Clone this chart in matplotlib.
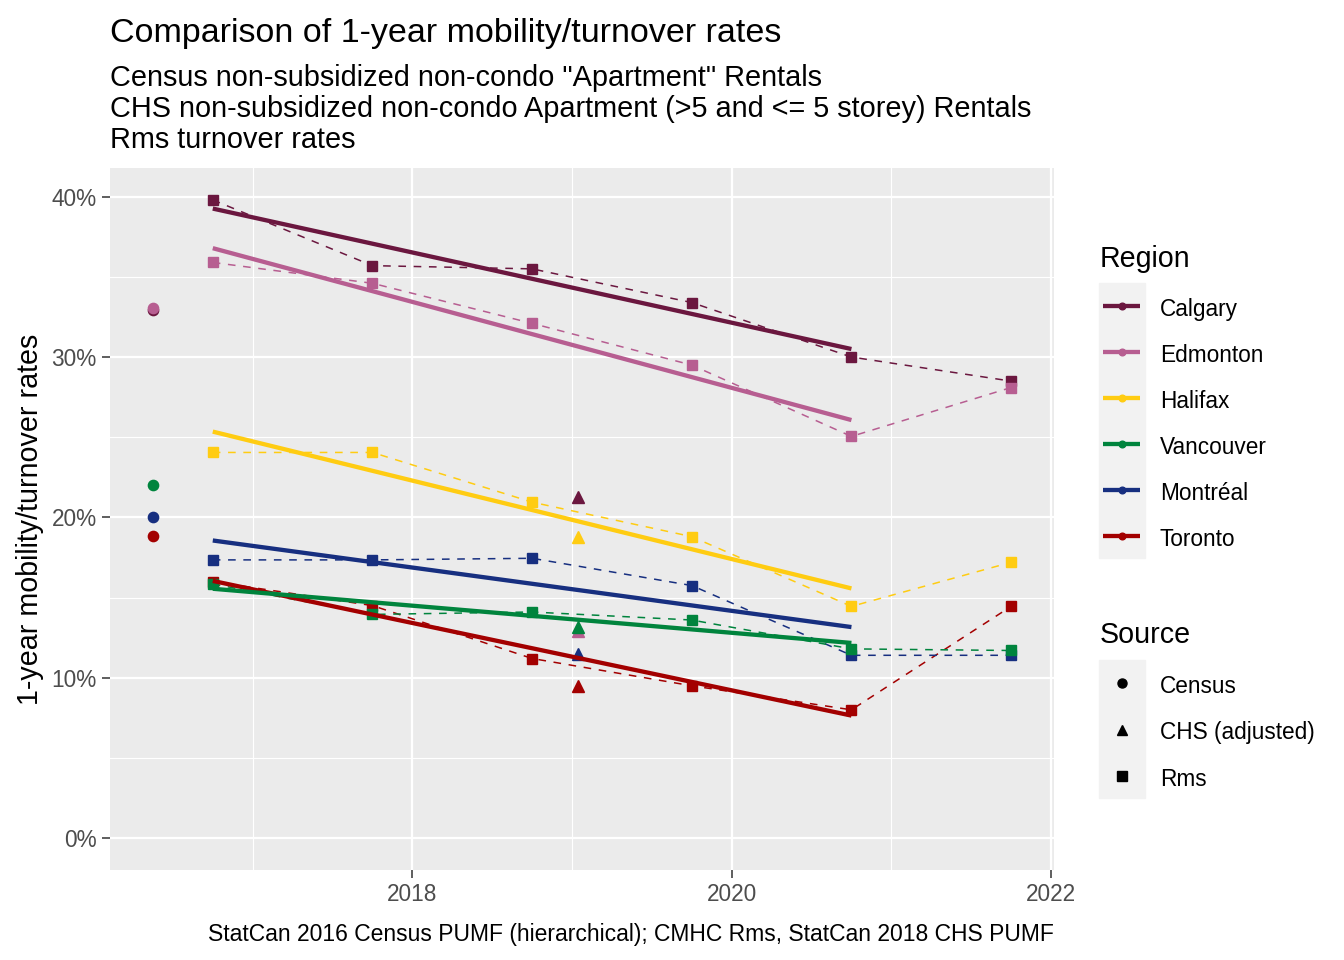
import numpy as np
import matplotlib
matplotlib.use("Agg")
import matplotlib.pyplot as plt
from matplotlib.lines import Line2D
from matplotlib.patches import Rectangle
from matplotlib.ticker import FuncFormatter

plt.rcParams['font.family'] = ['Liberation Sans', 'DejaVu Sans']

# ---- data (percent) ----
regions = ["Calgary", "Edmonton", "Halifax", "Vancouver", "Montréal", "Toronto"]
colors = {"Calgary": "#6B173F", "Edmonton": "#B75E91", "Halifax": "#FFCC12",
          "Vancouver": "#00843D", "Montréal": "#172F80", "Toronto": "#A30000"}

rms_years = [2016.75, 2017.75, 2018.75, 2019.75, 2020.75, 2021.75]
rms_calgary = [39.8, 35.7, 35.5, 33.4, 30.0, 28.5]
rms_edmonton = [35.9, 34.6, 32.1, 29.5, 25.05, 28.1]
rms_halifax = [24.05, 24.05, 20.95, 18.8, 14.45, 17.2]
rms_vancouver = [15.85, 13.95, 14.1, 13.6, 11.8, 11.7]
rms_montreal = [17.35, 17.35, 17.45, 15.75, 11.4, 11.4]
rms_toronto = [16.0, 14.5, 11.2, 9.5, 8.0, 14.45]

census_year = 2016.375
census_regions = ["Calgary", "Edmonton", "Vancouver", "Montréal", "Toronto"]
census_values = [32.95, 33.05, 22.0, 20.0, 18.85]

chs_year = 2019.04
chs_regions = ["Calgary", "Edmonton", "Halifax", "Vancouver", "Montréal", "Toronto"]
chs_values = [21.25, 12.9, 18.8, 13.15, 11.5, 9.5]

rms = {"Calgary": rms_calgary, "Edmonton": rms_edmonton, "Halifax": rms_halifax,
       "Vancouver": rms_vancouver, "Montréal": rms_montreal, "Toronto": rms_toronto}

# fit window for the trend lines (Rms up to 2020)
fit_n = 5

draw_order = ["Calgary", "Edmonton", "Halifax", "Toronto", "Montréal", "Vancouver"]

W, H = 1344, 960
def fx(px):
    return px / W
def fy(py):
    return 1 - py / H

fig = plt.figure(figsize=(W / 100, H / 100), dpi=100)
ax = fig.add_axes([fx(110), fy(870), (1054 - 110) / W, (870 - 168) / H])
ax.set_facecolor("#EBEBEB")
for s in ax.spines.values():
    s.set_visible(False)

# dashed Rms lines
for r in draw_order:
    ax.plot(rms_years, rms[r], color=colors[r], lw=1.1, linestyle=(0, (5, 5)), zorder=3)

# points
for r in draw_order:
    ax.plot(rms_years, rms[r], linestyle="none", marker="s", ms=7.4, color=colors[r], zorder=4)
    if r in census_regions:
        ax.plot([census_year], [census_values[census_regions.index(r)]], linestyle="none",
                marker="o", ms=7.4, color=colors[r], zorder=4)
    if r in chs_regions:
        ax.plot([chs_year], [chs_values[chs_regions.index(r)]], linestyle="none",
                marker="^", ms=8.4, color=colors[r], zorder=4)

# linear trend lines
for r in draw_order:
    xs = np.array(rms_years[:fit_n])
    ys = np.array(rms[r][:fit_n])
    slope, icpt = np.polyfit(xs, ys, 1)
    xl = np.array([xs.min(), xs.max()])
    ax.plot(xl, slope * xl + icpt, color=colors[r], lw=3.1, zorder=5, solid_capstyle="butt")

# limits with ggplot-like 5% expansion
all_x = rms_years + [census_year, chs_year]
all_y = sum(rms.values(), []) + census_values + chs_values + [0]
xr = max(all_x) - min(all_x)
yr = max(all_y) - min(all_y)
ax.set_xlim(min(all_x) - 0.05 * xr, max(all_x) + 0.05 * xr)
ax.set_ylim(min(all_y) - 0.05 * yr, max(all_y) + 0.05 * yr)

ax.set_xticks([2018, 2020, 2022])
ax.set_xticks([2017, 2019, 2021], minor=True)
ax.set_yticks([0, 10, 20, 30, 40])
ax.set_yticks([5, 15, 25, 35], minor=True)
ax.yaxis.set_major_formatter(FuncFormatter(lambda v, p: f"{v:.0f}%"))
ax.grid(which="major", color="white", lw=1.6, zorder=0)
ax.grid(which="minor", color="white", lw=0.8, zorder=0)
ax.set_axisbelow(True)
ax.tick_params(which="major", length=5.5, width=1.1, color="#333333",
               labelsize=16.3, labelcolor="#4D4D4D", pad=4)
ax.tick_params(which="minor", length=0)

# titles
fig.text(fx(110), fy(42), "Comparison of 1-year mobility/turnover rates", fontsize=24.5,
         ha="left", va="baseline")
subs = ['Census non-subsidized non-condo "Apartment" Rentals',
        'CHS non-subsidized non-condo Apartment (>5 and <= 5 storey) Rentals',
        'Rms turnover rates']
for i, s in enumerate(subs):
    fig.text(fx(110), fy(86 + 31 * i), s, fontsize=20.8, ha="left", va="baseline")
fig.text(fx(1054), fy(941), "StatCan 2016 Census PUMF (hierarchical); CMHC Rms, StatCan 2018 CHS PUMF",
         fontsize=16.45, ha="right", va="baseline")
fig.text(fx(30), fy(519), "1-year mobility/turnover rates", fontsize=20.6, rotation=90,
         ha="center", va="center")

# Region legend
fig.text(fx(1100), fy(267), "Region", fontsize=20.6, ha="left", va="baseline")
fig.patches.append(Rectangle((fx(1099), fy(558)), 46 / W, (558 - 283) / H,
                             transform=fig.transFigure, color="#F2F2F2", zorder=0))
for i, r in enumerate(regions):
    yc = 306 + 46 * i
    fig.lines.append(Line2D([fx(1103), fx(1140)], [fy(yc), fy(yc)], transform=fig.transFigure,
                            color=colors[r], lw=3.1, solid_capstyle="butt"))
    fig.lines.append(Line2D([fx(1121.5)], [fy(yc)], transform=fig.transFigure, color=colors[r],
                            marker="o", ms=4.8, linestyle="none"))
    fig.text(fx(1160), fy(yc + 10), r, fontsize=16.3, ha="left", va="baseline")

# Source legend
sources = ["Census", "CHS (adjusted)", "Rms"]
source_markers = ["o", "^", "s"]
source_sizes = [6.5, 7.5, 6.5]
fig.text(fx(1100), fy(643), "Source", fontsize=20.6, ha="left", va="baseline")
fig.patches.append(Rectangle((fx(1099), fy(798)), 46 / W, (798 - 660) / H,
                             transform=fig.transFigure, color="#F2F2F2", zorder=0))
for i, s in enumerate(sources):
    yc = 683 + 46.5 * i
    fig.lines.append(Line2D([fx(1121.5)], [fy(yc)], transform=fig.transFigure, color="black",
                            marker=source_markers[i], ms=source_sizes[i], linestyle="none"))
    fig.text(fx(1160), fy(yc + 10), s, fontsize=16.3, ha="left", va="baseline")

fig.savefig("out.png", dpi=100)
